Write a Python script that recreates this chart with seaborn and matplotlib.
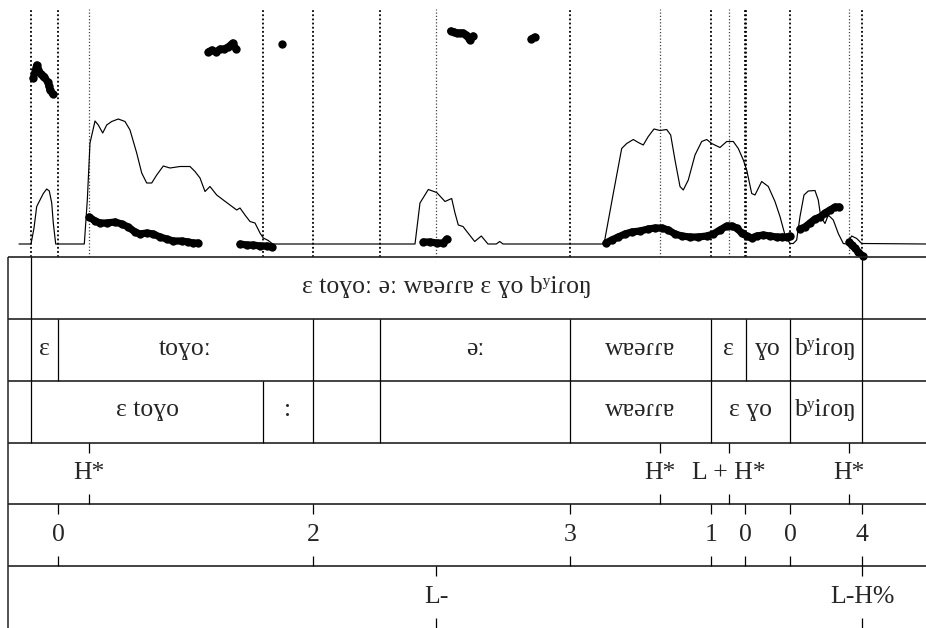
import numpy as np
import pandas as pd
import matplotlib
matplotlib.use("Agg")
import matplotlib.pyplot as plt
import seaborn as sns

# ---------------- data ----------------
T_END = 2.6229  # visible time window (s)

# intensity contour (s, dB)
int_t = [0.0314, 0.0657, 0.0743, 0.082, 0.1009, 0.1106, 0.118, 0.1249, 0.1294, 0.1363,
         0.218, 0.2266, 0.2343, 0.2486, 0.258, 0.2706, 0.282, 0.2963, 0.3151, 0.3343,
         0.3486, 0.3677, 0.382, 0.3963, 0.4106, 0.4249, 0.4437, 0.4629, 0.4914, 0.52,
         0.5343, 0.5486, 0.5629, 0.5771, 0.5963, 0.6151, 0.6343, 0.6534, 0.6629, 0.6771,
         0.6914, 0.7057, 0.72, 0.7294, 0.7437, 0.7563,
         1.1629, 1.1771, 1.2009, 1.2249, 1.2486, 1.2677, 1.2771, 1.2866, 1.3, 1.3143,
         1.3334, 1.3523, 1.3714, 1.3951, 1.4049, 1.4143,
         1.7029, 1.7294, 1.7534, 1.7677, 1.7866, 1.8009, 1.8151, 1.8294, 1.8457, 1.8629,
         1.882, 1.8934, 1.9057, 1.92, 1.9294, 1.9437, 1.9629, 1.982, 1.9963, 2.0106,
         2.0343, 2.0534, 2.0723, 2.0866, 2.1009, 2.1106, 2.1249, 2.1343, 2.1534, 2.1723,
         2.1914, 2.2057, 2.22, 2.2343, 2.2437, 2.2534, 2.2629, 2.2743, 2.2866, 2.3057,
         2.3151, 2.322, 2.3343, 2.3437, 2.358, 2.3723, 2.3866, 2.3963, 2.4106, 2.4249,
         2.4391, 2.6229]
int_db = [40, 40, 43.2, 47.5, 50.1, 51.0, 50.6, 48.2, 44.2, 40,
          40, 48.8, 60.2, 64.6, 63.8, 62.2, 63.8, 64.5, 65.0, 64.5,
          62.8, 58.2, 54.2, 52.2, 52.2, 53.8, 55.6, 55.2, 55.5, 55.5,
          54.5, 53.2, 50.5, 51.5, 49.8, 48.8, 47.8, 46.8, 47.2, 45.8,
          44.5, 44.2, 42.2, 41.2, 40.7, 40,
          40, 48.2, 50.9, 50.3, 48.5, 49.1, 46.2, 43.8, 43.5, 42.2,
          40.5, 41.6, 40, 40, 40.5, 40,
          40, 50.1, 59.1, 60.1, 60.9, 60.3, 59.8, 61.5, 63.0, 62.7,
          62.9, 61.8, 56.8, 51.5, 50.8, 52.8, 57.8, 60.5, 60.9, 60.1,
          59.3, 60.5, 60.5, 59.1, 56.8, 54.8, 50.1, 49.8, 52.5, 51.5,
          48.5, 45.5, 41.8, 40.1, 40.1, 40.8, 45.5, 49.8, 50.6, 50.7,
          48.8, 45.5, 44.1, 45.8, 44.8, 42.1, 40.1, 40, 41.6, 41.1,
          40.1, 40]

# pitch track (s, Hz, voiced-stretch id)
pitch_t = [0.0723, 0.082, 0.0934, 0.0986, 0.1037, 0.1134, 0.1171, 0.12, 0.1277,
           0.2323, 0.2486, 0.2629, 0.282, 0.3057, 0.3249, 0.3437, 0.3629, 0.3771, 0.3963,
           0.4151, 0.4343, 0.4534, 0.4723, 0.4963, 0.5151, 0.5294, 0.5437,
           0.5723, 0.582, 0.5943, 0.6057, 0.6171, 0.6294, 0.642, 0.6514,
           0.6629, 0.682, 0.7009, 0.72, 0.7391, 0.7534,
           0.782,
           1.1866, 1.2057, 1.2249, 1.2437, 1.2534,
           1.2649, 1.2743, 1.282, 1.2914, 1.3, 1.3094, 1.3191, 1.3286,
           1.4951, 1.5049,
           1.7086, 1.7249, 1.7437, 1.7629, 1.782, 1.8057, 1.8294, 1.8486, 1.8677, 1.8866,
           1.9057, 1.9249, 1.9486, 1.9723, 1.9963, 2.0151, 2.0343, 2.0534, 2.0677, 2.082,
           2.0963, 2.1106, 2.1249, 2.1391, 2.158, 2.1771, 2.1963, 2.2106, 2.2249, 2.2343,
           2.2629, 2.2771, 2.2914, 2.3057, 2.32, 2.3343, 2.3486, 2.3629, 2.3751,
           2.4037, 2.4106, 2.42, 2.4294, 2.4419]
pitch_hz = [279, 292, 283, 281.5, 280, 275, 271, 267, 263,
            140, 136, 134, 134, 135, 133, 130, 125, 123, 124,
            123, 120, 118, 116, 116, 115, 114, 114,
            305, 307, 305, 308, 308, 310, 314, 308,
            113, 112, 112, 111, 111, 110,
            313,
            115, 115, 114, 114, 118,
            326, 325, 324, 324, 324, 322, 317, 321,
            318, 320,
            114, 117, 120, 123, 125, 126, 128, 129, 129, 127,
            123, 121, 120, 120, 121, 123, 127, 131, 131, 129,
            124, 121, 119, 121, 122, 121, 120, 120, 120, 121,
            128, 130, 134, 138, 140, 144, 147, 150, 150,
            115, 112, 109, 105, 101]
pitch_seg = ([1] * 9 + [2] * 18 + [3] * 8 + [4] * 6 + [5] + [6] * 5 + [7] * 8 + [8] * 2
             + [9] * 30 + [10] * 9 + [11] * 5)

# tier 1-3: interval tiers (boundaries, labels)
tier1_bounds = [0.0, 0.0657, 2.44, T_END]
tier1_labels = ["", "ɛ toɣoː əː wɐəɾɾɐ ɛ ɣo bʸiɾoŋ", ""]
tier2_bounds = [0.0, 0.0657, 0.1429, 0.8714, 1.0629, 1.6057, 2.0086, 2.1086, 2.2343, 2.44, T_END]
tier2_labels = ["", "ɛ", "toɣoː", "", "əː", "wɐəɾɾɐ", "ɛ", "ɣo", "bʸiɾoŋ", ""]
tier3_bounds = [0.0, 0.0657, 0.7286, 0.8714, 1.0629, 1.6057, 2.0086, 2.2343, 2.44, T_END]
tier3_labels = ["", "ɛ toɣo", ":", "", "", "wɐəɾɾɐ", "ɛ ɣo", "bʸiɾoŋ", ""]
# tier 4-6: point tiers
tier4_times = [0.2314, 1.8629, 2.06, 2.4029]
tier4_labels = ["H*", "H*", "L + H*", "H*"]
tier5_times = [0.1429, 0.8714, 1.6057, 2.0086, 2.1057, 2.2343, 2.44]
tier5_labels = ["0", "2", "3", "1", "0", "0", "4"]
tier6_times = [1.2229, 2.44]
tier6_labels = ["L-", "L-H%"]

# ---------------- figure ----------------
sns.set_style("white")
plt.rcParams['font.family'] = ['Liberation Serif', 'DejaVu Serif']

W, H = 926, 628
fig = plt.figure(figsize=(W / 100, H / 100), dpi=100)
left = 8 / W
width = (W - 8) / W
ax = fig.add_axes([left, (H - 257) / H, width, 250 / H])
ax_i = ax.twinx()
tg = fig.add_axes([left, 0, width, 371 / H])

for a in (ax, ax_i, tg):
    a.set_xlim(0, T_END)
    for s in a.spines.values():
        s.set_visible(False)
    a.set_xticks([])
    a.set_yticks([])
    a.patch.set_alpha(0)

ax.set_ylim(100, 350)
ax_i.set_ylim(37.4, 87.4)

# dotted boundary lines in the signal panel
dark_lines = sorted(set(tier1_bounds[1:-1] + tier2_bounds[1:-1] + tier3_bounds[1:-1] + tier5_times))
light_lines = tier4_times + tier6_times[:1]
ax.vlines(dark_lines, 100, 348, colors="black", linewidth=1.3, linestyles=(0, (1.0, 1.3)))
ax.vlines(light_lines, 100, 348, colors="#444444", linewidth=0.9, linestyles=(0, (1.0, 1.6)))

# intensity
dfi = pd.DataFrame({"t": int_t, "db": int_db})
sns.lineplot(data=dfi, x="t", y="db", ax=ax_i, color="black", linewidth=0.85,
             estimator=None, sort=False)

# pitch
dfp = pd.DataFrame({"t": pitch_t, "hz": pitch_hz, "seg": pitch_seg})
sns.lineplot(data=dfp, x="t", y="hz", units="seg", estimator=None, ax=ax, color="black",
             linewidth=5.2, solid_capstyle="round", sort=False, legend=False)
sns.scatterplot(data=dfp, x="t", y="hz", ax=ax, color="black", s=36, linewidth=0,
                legend=False, clip_on=False)
for a in (ax, ax_i):
    a.set_xlabel("")
    a.set_ylabel("")
    a.set_yticks([])
    a.set_xticks([])

# ---------------- TextGrid ----------------
tg.set_ylim(0, 6)
FS = 18.5
lc = "#222222"
tg.vlines(0, 0, 6, colors=lc, linewidth=1.1, clip_on=False)
tg.hlines([1, 2, 3, 4, 5, 6], 0, T_END, colors=lc, linewidth=1.2, clip_on=False)

def interval_tier(k, bounds, labels):
    y0, y1 = 6 - k, 7 - k
    tg.vlines(bounds[1:-1], y0, y1, colors="black", linewidth=0.9)
    for a, b, lab in zip(bounds[:-1], bounds[1:], labels):
        if lab:
            tg.text((a + b) / 2, (y0 + y1) / 2 + 0.02, lab, ha="center", va="center", fontsize=FS)

def point_tier(k, times, labels):
    y0, y1 = 6 - k, 7 - k
    tick = 10 / 61.8
    tg.vlines(times, y1 - tick, y1, colors="black", linewidth=0.9)
    tg.vlines(times, y0, y0 + tick, colors="black", linewidth=0.9)
    for t, lab in zip(times, labels):
        tg.text(t, (y0 + y1) / 2, lab, ha="center", va="center", fontsize=FS)

interval_tier(1, tier1_bounds, tier1_labels)
interval_tier(2, tier2_bounds, tier2_labels)
interval_tier(3, tier3_bounds, tier3_labels)
point_tier(4, tier4_times, tier4_labels)
point_tier(5, tier5_times, tier5_labels)
point_tier(6, tier6_times, tier6_labels)

fig.savefig("out.png", dpi=100)
